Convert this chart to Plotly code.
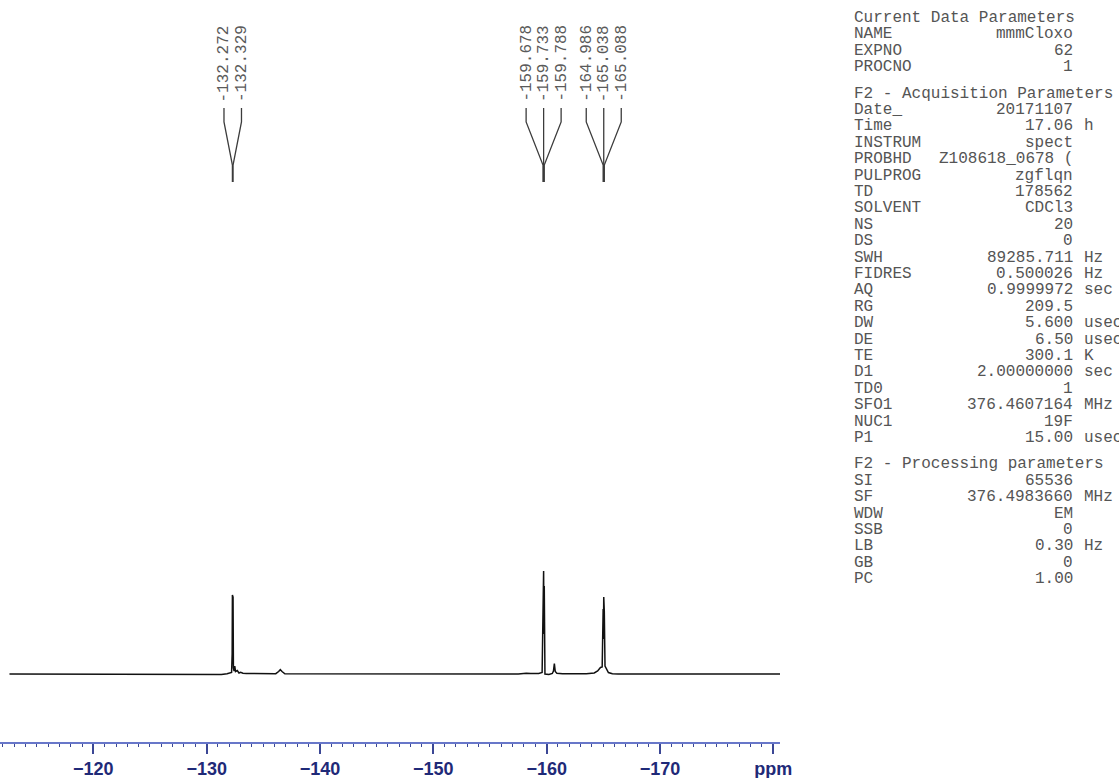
import plotly.graph_objects as go

# ---------------------------------------------------------------------------
# 19F NMR trace (chemical shift in ppm, intensity in arbitrary units)
# ---------------------------------------------------------------------------
shift_ppm = [
    -112.6, -131.0, -131.3, -131.8, -132.05, -132.2, -132.25, -132.272, -132.30,
    -132.329, -132.36, -132.42, -132.48, -132.55, -132.7, -132.85, -133.0,
    -133.2, -133.5, -134.5, -135.0, -135.3, -136.1, -136.35, -136.5, -136.65,
    -136.9, -157.5, -158.2, -158.6, -159.3, -159.6, -159.678, -159.70, -159.733,
    -159.76, -159.788, -159.85, -160.2, -160.5, -160.6, -160.68, -160.76,
    -160.9, -161.4, -163.5, -164.2, -164.5, -164.75, -164.9, -164.986, -165.01,
    -165.038, -165.06, -165.088, -165.15, -165.25, -165.45, -165.8, -166.3,
    -180.6,
]
intensity = [
    0.0, 0.0, -0.5, 0.3, 0.8, 1.5, 20.0, 79.0, 40.0,
    77.0, 6.0, 3.0, 8.0, 2.5, 3.5, 1.0, 1.8,
    0.8, 0.5, 0.2, 0.6, 0.2, 0.3, 2.5, 4.3, 2.5,
    0.2, 0.0, 0.8, 0.5, 0.5, 1.5, 90.0, 40.0, 103.0,
    40.0, 88.0, 0.0, -0.5, 0.5, 3.0, 10.3, 2.5,
    0.8, 0.2, 0.3, 1.0, 3.0, 6.5, 7.0, 65.0, 35.0,
    77.0, 35.0, 62.0, 8.0, 6.0, 1.5, 0.3, 0.0,
    0.0,
]

# picked peaks, one list per printed label group
peak_groups = [
    [-132.272, -132.329],
    [-159.678, -159.733, -159.788],
    [-164.986, -165.038, -165.088],
]

# shift axis ticks
tick_values = [-120, -130, -140, -150, -160, -170, -180]
tick_labels = ["\u2212120", "\u2212130", "\u2212140", "\u2212150", "\u2212160", "\u2212170", "ppm"]

# parameter listing
section_titles = [
    "Current Data Parameters",
    "F2 - Acquisition Parameters",
    "F2 - Processing parameters",
]
current_names = ["NAME", "EXPNO", "PROCNO"]
current_values = ["mmmCloxo", "62", "1"]
current_units = ["", "", ""]

acq_names = ["Date_", "Time", "INSTRUM", "PROBHD", "PULPROG", "TD", "SOLVENT",
             "NS", "DS", "SWH", "FIDRES", "AQ", "RG", "DW", "DE", "TE", "D1",
             "TD0", "SFO1", "NUC1", "P1"]
acq_values = ["20171107", "17.06", "spect", "Z108618_0678 (", "zgflqn", "178562",
              "CDCl3", "20", "0", "89285.711", "0.500026", "0.9999972", "209.5",
              "5.600", "6.50", "300.1", "2.00000000", "1", "376.4607164", "19F",
              "15.00"]
acq_units = ["", "h", "", "", "", "", "", "", "", "Hz", "Hz", "sec", "", "usec",
             "usec", "K", "sec", "", "MHz", "", "usec"]

proc_names = ["SI", "SF", "WDW", "SSB", "LB", "GB", "PC"]
proc_values = ["65536", "376.4983660", "EM", "0", "0.30", "0", "1.00"]
proc_units = ["", "MHz", "", "", "Hz", "", ""]

# ---------------------------------------------------------------------------
# page geometry (pixels)
# ---------------------------------------------------------------------------
W, H = 1119, 778
AXIS_PX = 742          # vertical position of the shift axis line
BASE_PX = 674          # vertical position of the spectrum baseline
PLOT_RIGHT_PX = 780    # right end of the shift axis
PX_PER_PPM = 11.333
X_LEFT = -120 + 93.33 / PX_PER_PPM
X_RIGHT = -120 - (PLOT_RIGHT_PX - 93.33) / PX_PER_PPM


def y_of(px):
    """Intensity-axis value that lands on pixel row px (1 unit = 1 px)."""
    return BASE_PX - px


MONO = "Courier New, Liberation Mono, monospace"
TEXT_GREY = "#555555"

fig = go.Figure()

fig.add_trace(go.Scatter(
    x=shift_ppm, y=intensity, mode="lines",
    line=dict(color="#111111", width=1.5),
    hoverinfo="skip",
))

# peak labels with their connector lines
label_step = 17.5 / PX_PER_PPM
annotations = []
for group in peak_groups:
    centre = sum(group) / len(group)
    n = len(group)
    for i, p in enumerate(group):
        lx = centre - (i - (n - 1) / 2) * label_step
        fig.add_trace(go.Scatter(
            x=[lx, lx, p, p],
            y=[y_of(108), y_of(122), y_of(165), y_of(182)],
            mode="lines", line=dict(color="#3c3c3c", width=1.3),
            hoverinfo="skip",
        ))
        annotations.append(dict(
            x=lx, y=y_of(104), xref="x", yref="y",
            text=f"-{abs(p):.3f}", textangle=-90,
            xanchor="center", yanchor="bottom", showarrow=False,
            font=dict(family=MONO, size=16, color="#5a5a5a"),
        ))

# parameter block
CHAR_W = 9.6
TEXT_X = 853
VALUE_END = TEXT_X + 23 * CHAR_W
UNIT_X = TEXT_X + 24 * CHAR_W
ROW = 16.4
GAP = 26.4


def text_at(px_x, px_y, txt, anchor):
    annotations.append(dict(
        x=px_x / W, y=1 - px_y / H, xref="paper", yref="paper",
        text=txt, xanchor=anchor, yanchor="middle", showarrow=False,
        font=dict(family=MONO, size=16, color=TEXT_GREY),
        borderpad=0,
    ))


sections = [
    (section_titles[0], current_names, current_values, current_units),
    (section_titles[1], acq_names, acq_values, acq_units),
    (section_titles[2], proc_names, proc_values, proc_units),
]
row_y = 18.0
for s_idx, (title, names, values, units) in enumerate(sections):
    if s_idx > 0:
        row_y += GAP - ROW
    text_at(TEXT_X, row_y, title, "left")
    for name, value, unit in zip(names, values, units):
        row_y += ROW
        text_at(TEXT_X, row_y, name, "left")
        text_at(VALUE_END, row_y, value, "right")
        if unit:
            text_at(UNIT_X, row_y, unit, "left")
    row_y += ROW

fig.update_layout(
    width=W, height=H, autosize=False,
    margin=dict(l=0, r=0, t=0, b=0, pad=0),
    paper_bgcolor="white", plot_bgcolor="white",
    showlegend=False,
    annotations=annotations,
    xaxis=dict(
        domain=[0, PLOT_RIGHT_PX / W],
        range=[X_LEFT, X_RIGHT],
        automargin=False,
        showgrid=False, zeroline=False,
        showline=True, linecolor="#6877c9", linewidth=1.5,
        ticks="outside", ticklen=10, tickwidth=1.5, tickcolor="#3b4795",
        tickmode="array", tickvals=tick_values, ticktext=tick_labels,
        tickfont=dict(family="Liberation Sans, Arial, sans-serif", size=18,
                      color="#1f2a78", weight="bold"),
        minor=dict(tickmode="linear", tick0=0, dtick=1, ticks="outside",
                   ticklen=3, tickwidth=1.2, tickcolor="#3b4795", showgrid=False),
        fixedrange=True,
    ),
    yaxis=dict(
        domain=[(H - AXIS_PX) / H, 1],
        range=[y_of(AXIS_PX), y_of(0)],
        automargin=False,
        visible=False, fixedrange=True,
    ),
)

fig.write_html("out.html", config={"responsive": False})
